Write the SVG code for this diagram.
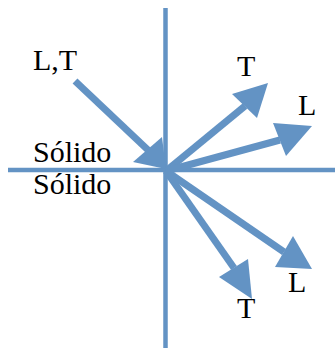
<svg xmlns="http://www.w3.org/2000/svg" width="335" height="348" viewBox="0 0 335 348">
<style>
.ax{stroke:#6393c4;stroke-width:4.5;fill:none}
.sh{stroke:#6393c4;stroke-width:7;fill:none}
.hd{fill:#6393c4;stroke:none}
.lb{font-family:'Liberation Serif','Times New Roman',serif;font-size:30px;fill:#000}
</style>
<g id="axes">
<line class="ax" x1="165.5" y1="8" x2="165.5" y2="348"/>
<line class="ax" x1="8" y1="170" x2="335" y2="170"/>
</g>
<g id="connectors">
<g id="incoming">
<line class="sh" x1="75" y1="81" x2="148" y2="150"/>
<polygon class="hd" points="133,162 162,137 166,169"/>
</g>
<g id="refl-T">
<line class="sh" x1="166" y1="171" x2="245" y2="106"/>
<polygon class="hd" points="232,94 257,118 268,83"/>
</g>
<g id="refl-L">
<line class="sh" x1="166" y1="171" x2="280" y2="140"/>
<polygon class="hd" points="273,123 286,156 312,126"/>
</g>
<g id="trans-L">
<line class="sh" x1="166" y1="171" x2="284" y2="252"/>
<polygon class="hd" points="293,236 275,267 312,269"/>
</g>
<g id="trans-T">
<line class="sh" x1="166" y1="171" x2="234" y2="268"/>
<polygon class="hd" points="248,259 219,277 252,299"/>
</g>
</g>
<g id="labels">
<text class="lb" x="33" y="70">L,T</text>
<text class="lb" x="33" y="162">Sólido</text>
<text class="lb" x="33" y="194">Sólido</text>
<text class="lb" x="237" y="76">T</text>
<text class="lb" x="298" y="115">L</text>
<text class="lb" x="288" y="292">L</text>
<text class="lb" x="237" y="318">T</text>
</g>
</svg>
